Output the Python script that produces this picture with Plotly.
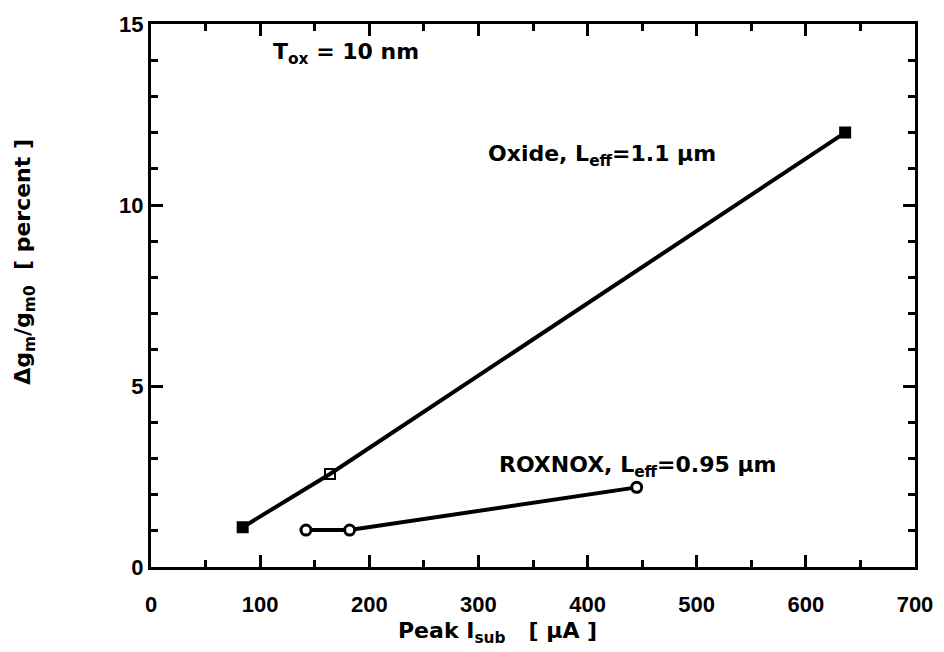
import plotly.graph_objects as go

oxide_x = [84, 164, 636]
oxide_y = [1.1, 2.57, 12.0]
oxide_symbols = ["square", "square-open", "square"]

roxnox_x = [142, 182, 445]
roxnox_y = [1.02, 1.02, 2.2]
roxnox_symbols = ["circle", "circle", "circle"]

x_ticks = [0, 100, 200, 300, 400, 500, 600, 700]
y_ticks = [0, 5, 10, 15]

FONT = "Liberation Sans"
AFONT = "DejaVu Sans"

fig = go.Figure()
fig.add_trace(go.Scatter(
    x=oxide_x, y=oxide_y, mode="lines+markers",
    line=dict(color="black", width=4),
    marker=dict(symbol=oxide_symbols, size=10, color="black",
                line=dict(color="black", width=2)),
    showlegend=False))
fig.add_trace(go.Scatter(
    x=roxnox_x, y=roxnox_y, mode="lines+markers",
    line=dict(color="black", width=4),
    marker=dict(symbol=roxnox_symbols, size=10, color="white",
                line=dict(color="black", width=3)),
    showlegend=False))

axis_common = dict(
    showgrid=False, zeroline=False, showline=True, linecolor="black",
    linewidth=3, mirror="ticks", ticks="inside", tickcolor="black",
    tickwidth=3, ticklen=12,
    tickfont=dict(family=FONT, size=22, color="black"),
)

fig.update_xaxes(
    range=[0, 700], tickvals=x_ticks, ticktext=[f"<b>{v}</b>" for v in x_ticks],
    minor=dict(dtick=50, ticks="inside", ticklen=7, tickwidth=3, tickcolor="black"),
    ticklabelstandoff=16,
    **axis_common)
fig.update_yaxes(
    range=[0, 15], tickvals=y_ticks, ticktext=[f"<b>{v}</b>" for v in y_ticks],
    minor=dict(dtick=1, ticks="inside", ticklen=7, tickwidth=3, tickcolor="black"),
    ticklabelstandoff=0,
    **axis_common)

annots = [
    dict(x=0.255, y=0.946, text="<b>T<sub>ox</sub> = 10 nm</b>", size=22, angle=0),
    dict(x=0.59, y=0.758, text="<b>Oxide, L<sub>eff</sub>=1.1 μm</b>", size=22, angle=0),
    dict(x=0.637, y=0.186, text="<b>ROXNOX, L<sub>eff</sub>=0.95 μm</b>", size=22, angle=0),
    dict(x=-0.165, y=0.562, text="<b>Δg<sub>m</sub>/g<sub>m0</sub>  [ percent ]</b>", size=22, angle=-90),
    dict(x=0.453, y=-0.1215, text="<b>Peak I<sub>sub</sub>   [ μA ]</b>", size=22, angle=0),
]
for a in annots:
    fig.add_annotation(xref="paper", yref="paper", x=a["x"], y=a["y"],
                       xanchor="center", yanchor="middle",
                       text=a["text"], showarrow=False, textangle=a["angle"],
                       font=dict(family=AFONT, size=a["size"], color="black"))

fig.update_layout(
    width=944, height=652,
    margin=dict(l=151, r=29, t=24, b=85),
    plot_bgcolor="white", paper_bgcolor="white",
)

fig.write_html("out.html")
